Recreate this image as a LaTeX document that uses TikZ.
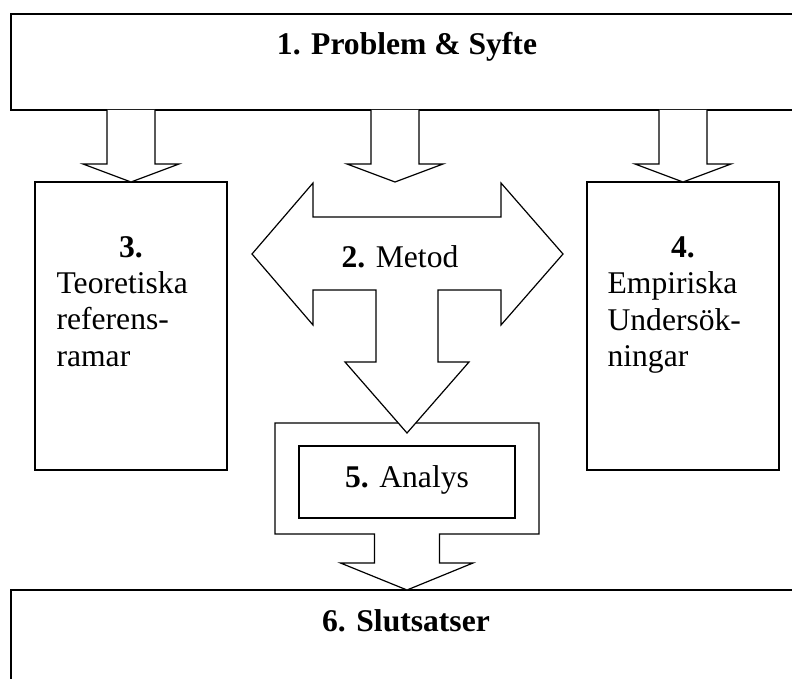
\documentclass[tikz,border=0pt]{standalone}
\usepackage{fontspec}
\setmainfont{Liberation Serif}
\newcommand{\downblock}[2]{%
  \path[blockarrow] (#1) ++(-24,0) -- ++(0,54) -- ++(-24,0) -- (#2)
    -- ++(48,-18) -- ++(-24,0) -- ++(0,-54);}
\begin{document}
\begin{tikzpicture}[x=1pt, y=-1pt, line width=1.2pt,
  box/.style={draw, inner sep=0pt, outer sep=0pt},
  txt/.style={font=\fontsize{31.6}{36.5}\selectfont, inner sep=0pt, anchor=base},
  blockarrow/.style={draw, fill=white}]
\useasboundingbox (0,0) rectangle (792,679);
\clip (0,0) rectangle (792,679);

% boxes
\node[box, minimum width=792pt, minimum height=96pt] (problem) at (407,62) {};
\node[box, minimum width=192pt, minimum height=288pt] (teori) at (131,326) {};
\node[box, minimum width=192pt, minimum height=288pt] (empiri) at (683,326) {};
\node[box, minimum width=792pt, minimum height=96pt] (slutsats) at (407,638) {};
\coordinate (metodtop) at (395,182);

% arrows from 1
\downblock{problem.south -| teori.north}{teori.north}
\downblock{problem.south -| metodtop}{metodtop}
\downblock{problem.south -| empiri.north}{empiri.north}

% analys frame with arrow to 6
\path[blockarrow] (275,423) -- (539,423) -- (539,534) -- (439.5,534) -- ++(0,29)
  -- ++(33.5,0) -- (slutsats.north) -- (340.5,563) -- ++(34,0) -- ++(0,-29)
  -- (275,534) -- cycle;

% metod arrow
\path[blockarrow] (252,254) -- (313,183) -- (313,217) -- (501,217) -- (501,183)
  -- (563,254) -- (501,325) -- (501,290) -- (438,290) -- (438,362) -- (469,362)
  -- (407,433) -- (345,362) -- (376,362) -- (376,290) -- (313,290) -- (313,325) -- cycle;

\node[box, minimum width=216pt, minimum height=72pt] (analys) at (407,482) {};

% texts
\node[txt] (problemtxt) at (407,55) {\textbf{1. Problem \& Syfte}};
\node[txt] (metodtxt) at (400,267) {\textbf{2.} Metod};
\node[txt] (teorinr) at (131,257) {\textbf{3.}};
\foreach \w [count=\i] in {Teoretiska,referens-,ramar}
  \node[txt, anchor=base west] (teori\i) at (56,256.5+36.5*\i) {\w};
\node[txt] (empirinr) at (683,257) {\textbf{4.}};
\foreach \w [count=\i] in {Empiriska,Undersök-,ningar}
  \node[txt, anchor=base west] (empiri\i) at (607,257+36.5*\i) {\w};
\node[txt] (analystxt) at (407,487) {\textbf{5.} Analys};
\node[txt] (slutsatstxt) at (406,631) {\textbf{6. Slutsatser}};
\end{tikzpicture}
\end{document}
